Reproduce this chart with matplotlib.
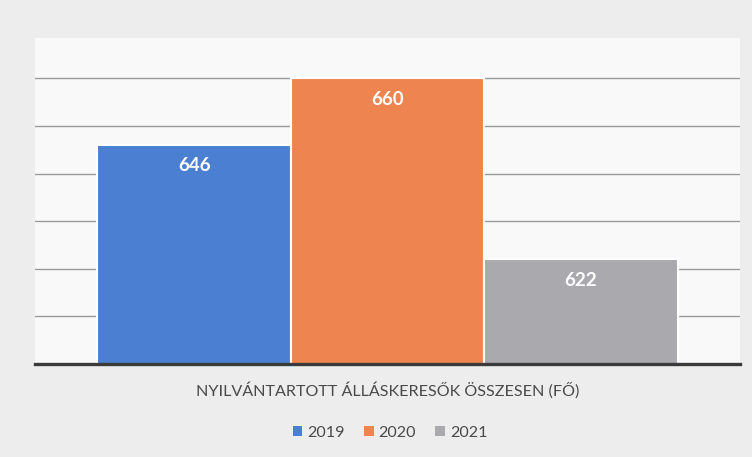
import matplotlib

matplotlib.use("Agg")
import matplotlib.pyplot as plt  # noqa: E402
from matplotlib.patches import Patch  # noqa: E402

years = ["2019", "2020", "2021"]
values = [646, 660, 622]
colors = ["#4a7fd2", "#ee8551", "#a9a9ae"]
category = "NYILVÁNTARTOTT ÁLLÁSKERESŐK ÖSSZESEN (FŐ)"

plt.rcParams["font.family"] = ["Lato", "DejaVu Sans"]

fig = plt.figure(figsize=(7.52, 4.57), dpi=100, facecolor="#ededed")
ax = fig.add_axes([35 / 752, 1 - 364 / 457, 705 / 752, 326 / 457])
ax.set_facecolor("#f9f9f9")

xs = list(range(len(values)))
bars = ax.bar(xs, values, width=1.0, bottom=0, color=colors,
              edgecolor="white", linewidth=1.5, zorder=3)
for x, v in zip(xs, values):
    ax.text(x, v - 2.6, str(v), ha="center", va="top", color="white",
            fontsize=13.5, fontweight="bold", zorder=4)

ax.set_ylim(600, 668.5)
ax.set_xlim(1 - 1.823, 1 + 1.823)
for y in range(610, 670, 10):
    ax.axhline(y, color="#9a9a9a", lw=1, zorder=1)
ax.axhline(600, color="#3a3a3a", lw=2.4, zorder=5, clip_on=False)

for s in ax.spines.values():
    s.set_visible(False)
ax.set_xticks([])
ax.set_yticks([])

fig.text(388 / 752, 1 - 390 / 457, category, ha="center", va="center",
         fontsize=11.6, color="#4a4a4a")

handles = [Patch(facecolor=c, edgecolor="none", label=y) for c, y in zip(colors, years)]
fig.legend(handles=handles, loc="center", bbox_to_anchor=(390 / 752, 1 - 433 / 457),
           ncol=3, frameon=False, fontsize=11.6, handlelength=0.6, handleheight=0.6,
           handletextpad=0.3, columnspacing=1.2, labelcolor="#4a4a4a")

fig.savefig("out.png", dpi=100, facecolor=fig.get_facecolor())
